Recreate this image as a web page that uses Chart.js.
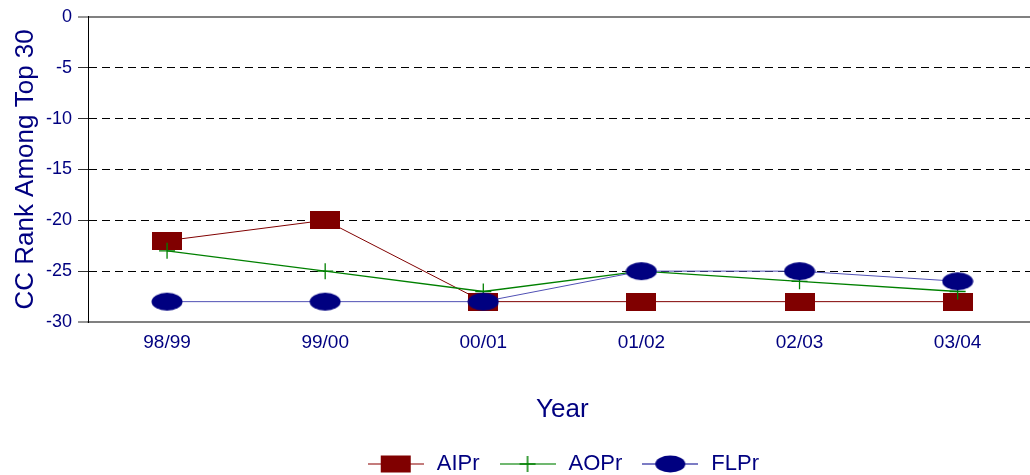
<!DOCTYPE html>
<html>
<head>
<meta charset="utf-8">
<script src="https://cdn.jsdelivr.net/npm/chart.js@4.4.1/dist/chart.umd.min.js"></script>
<style>
  html, body { margin: 0; padding: 0; background: #fff; overflow: hidden; }
  canvas { display: block; }
</style>
</head>
<body>
<canvas id="c" width="1046" height="475"></canvas>
<script>
// ---- data ----
const categories = ['98/99', '99/00', '00/01', '01/02', '02/03', '03/04'];
const seriesNames = ['AIPr', 'AOPr', 'FLPr'];
const aiprValues = [-22, -20, -28, -28, -28, -28];
const aoprValues = [-23, -25, -27, -25, -26, -27];
const flprValues = [-28, -28, -28, -25, -25, -26];
const yMin = -30, yMax = 0, yStep = 5;
const xTitle = 'Year';
const yTitle = 'CC Rank Among Top 30';

// ---- styles ----
const FONT = "'Liberation Sans', Arial, sans-serif";
const TEXT = '#000080';
const MAROON = '#800000', GREEN = '#008000', NAVY = '#000080';

function makeCanvas(w, h, draw) {
  const c = document.createElement('canvas');
  c.width = w; c.height = h;
  draw(c.getContext('2d'), w, h);
  return c;
}
function drawRect(ctx, cx, cy, w, h, color) {
  ctx.fillStyle = color; ctx.fillRect(cx - w / 2, cy - h / 2, w, h);
}
function drawEllipse(ctx, cx, cy, rx, ry, color) {
  ctx.fillStyle = color; ctx.beginPath(); ctx.ellipse(cx, cy, rx, ry, 0, 0, Math.PI * 2); ctx.fill();
}
function drawCross(ctx, cx, cy, r, color) {
  ctx.strokeStyle = color; ctx.lineWidth = 1.5; ctx.beginPath();
  ctx.moveTo(cx - r, cy); ctx.lineTo(cx + r, cy); ctx.moveTo(cx, cy - r); ctx.lineTo(cx, cy + r); ctx.stroke();
}
const rectMarker = makeCanvas(30, 18, (ctx) => drawRect(ctx, 15, 9, 30, 18, MAROON));
const ellipseMarker = makeCanvas(32, 20, (ctx) => drawEllipse(ctx, 16, 10, 15.5, 9, NAVY));

function legendIcon(lineColor, kind) {
  return makeCanvas(56, 20, (ctx) => {
    ctx.strokeStyle = lineColor; ctx.lineWidth = 1.5;
    ctx.beginPath(); ctx.moveTo(0, 10); ctx.lineTo(56, 10); ctx.stroke();
    if (kind === 'rect') drawRect(ctx, 28, 10, 30, 17, MAROON);
    if (kind === 'ellipse') drawEllipse(ctx, 28, 10, 15, 8.5, NAVY);
    if (kind === 'cross') drawCross(ctx, 28, 10, 8, GREEN);
  });
}
const legendIcons = [legendIcon('#b05050', 'rect'), legendIcon('#40a040', 'cross'), legendIcon('#5050b0', 'ellipse')];

const isEdge = (ctx) => ctx.tick && (ctx.tick.value === yMin || ctx.tick.value === yMax);

// place the legend under the plot area (centred on it) and a bit lower
const legendPlacer = {
  id: 'legendPlacer',
  afterLayout(chart) {
    const lg = chart.legend, ca = chart.chartArea;
    if (!lg) return;
    lg.left = ca.left + 6; lg.right = ca.right - 6;
    lg.top += 10; lg.bottom += 10;
  }
};

new Chart(document.getElementById('c'), {
  type: 'line',
  data: {
    labels: categories,
    datasets: [
      { label: seriesNames[0], data: aiprValues, borderColor: MAROON, borderWidth: 1,
        pointStyle: rectMarker, order: 2, tension: 0 },
      { label: seriesNames[1], data: aoprValues, borderColor: GREEN, borderWidth: 1.3,
        pointStyle: 'cross', pointRadius: 8, pointBorderColor: GREEN, pointBorderWidth: 1.3, order: 1, tension: 0 },
      { label: seriesNames[2], data: flprValues, borderColor: '#5050b4', borderWidth: 1,
        pointStyle: ellipseMarker, order: 0, tension: 0 }
    ]
  },
  plugins: [legendPlacer],
  options: {
    responsive: false,
    animation: false,
    layout: { padding: { top: 16, right: 4, bottom: 0, left: 0 } },
    plugins: {
      tooltip: { enabled: false },
      legend: {
        position: 'bottom',
        labels: {
          usePointStyle: true,
          pointStyleWidth: 60,
          padding: 18,
          color: TEXT,
          font: { family: FONT, size: 22 },
          sort: (a, b) => a.datasetIndex - b.datasetIndex,
          generateLabels: (chart) => chart.data.datasets.map((ds, i) => ({
            text: ds.label, datasetIndex: i, pointStyle: legendIcons[i],
            fontColor: TEXT, lineWidth: 0, strokeStyle: 'transparent', fillStyle: 'transparent', hidden: false
          }))
        }
      }
    },
    scales: {
      x: {
        offset: true,
        grid: { drawOnChartArea: false, drawTicks: true, tickLength: 5, tickColor: 'rgba(0,0,0,0)' },
        border: { display: true, color: '#808080', width: 2 },
        ticks: { color: TEXT, font: { family: FONT, size: 19 }, padding: 4, maxRotation: 0 },
        title: { display: true, text: xTitle, color: TEXT, font: { family: FONT, size: 26 }, padding: { top: 36, bottom: 0 } }
      },
      y: {
        min: yMin, max: yMax,
        afterFit: (scale) => { scale.width = 88; },
        grid: {
          color: (ctx) => isEdge(ctx) ? '#808080' : '#000000',
          lineWidth: (ctx) => isEdge(ctx) ? 2 : 1,
          drawTicks: true, tickLength: 10, tickColor: '#303030', tickWidth: 1, tickBorderDash: []
        },
        border: { display: true, color: '#000000', width: 1, dash: (ctx) => isEdge(ctx) ? [] : [8, 5] },
        ticks: { stepSize: yStep, color: TEXT, font: { family: FONT, size: 18 }, padding: 6 },
        title: { display: true, text: yTitle, color: TEXT, font: { family: FONT, size: 26 }, padding: { top: 10, bottom: 0 } }
      }
    }
  }
});
</script>
</body>
</html>
